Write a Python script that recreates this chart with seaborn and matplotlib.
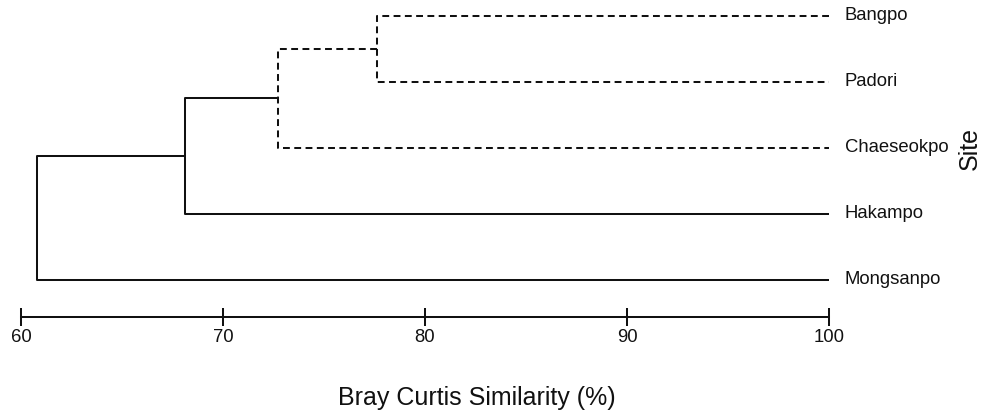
import matplotlib
matplotlib.use("Agg")
import matplotlib.pyplot as plt
import seaborn as sns
import pandas as pd

# ---- data ----
sites = ["Bangpo", "Padori", "Chaeseokpo", "Hakampo", "Mongsanpo"]
merge_heights = [77.6, 72.7, 68.1, 60.8]        # similarity (%) at each successive merge
merge_styles = ["dashed", "dashed", "solid", "solid"]
xticks = [60, 70, 80, 90, 100]

sns.set_style("white")
plt.rcParams["font.family"] = ["Liberation Sans", "DejaVu Sans"]

# ---- build dendrogram links (U shapes) ----
leaf_y = {s: len(sites) - 1 - i for i, s in enumerate(sites)}
rows = []
cx, cy = 100.0, leaf_y[sites[0]]
for i, (h, st) in enumerate(zip(merge_heights, merge_styles)):
    leaf = sites[i + 1]
    ly = leaf_y[leaf]
    pts = [(cx, cy), (h, cy), (h, ly), (100.0, ly)]
    for k, (px, py) in enumerate(pts):
        rows.append({"x": px, "y": py, "seg": i, "order": k, "style": st})
    cy = (cy + ly) / 2
    cx = h
df = pd.DataFrame(rows)

fig = plt.figure(figsize=(9.81, 4.12), dpi=100)
ax = fig.add_axes([21 / 981, (412 - 316.5) / 412, 808 / 981, (316.5 - 4) / 412])

sns.lineplot(data=df, x="x", y="y", units="seg", estimator=None, sort=False,
             style="style", dashes={"solid": "", "dashed": (3.4, 2.2)},
             color="#111111", linewidth=1.45, legend=False, ax=ax)

for s in sites:
    ax.annotate(s, xy=(100, leaf_y[s]), xytext=(11.5, 0), textcoords="offset points",
                ha="left", va="center", fontsize=13.3, color="#111111",
                annotation_clip=False)

ax.set_xlim(60, 100)
ax.set_ylim(-(316.5 - 280) / 66, 4 + (16 - 4) / 66)
ax.set_xticks(xticks)
ax.set_xticklabels([str(t) for t in xticks])
ax.set_yticks([])
ax.set_xlabel("")
ax.set_ylabel("")
for side in ["top", "right", "left"]:
    ax.spines[side].set_visible(False)
ax.spines["bottom"].set_linewidth(1.45)
ax.spines["bottom"].set_color("#111111")
ax.tick_params(axis="x", direction="inout", length=12.5, width=1.45, pad=3,
               labelsize=13.3, colors="#111111", bottom=True)
ax.patch.set_alpha(0)

fig.text(477 / 981, (412 - 405) / 412, "Bray Curtis Similarity (%)", ha="center",
         va="baseline", fontsize=18, color="#111111")
fig.text(969.5 / 981, (412 - 149) / 412, "Site", ha="center", va="center",
         rotation=90, fontsize=18, color="#111111")

fig.savefig("out.png", dpi=100)
